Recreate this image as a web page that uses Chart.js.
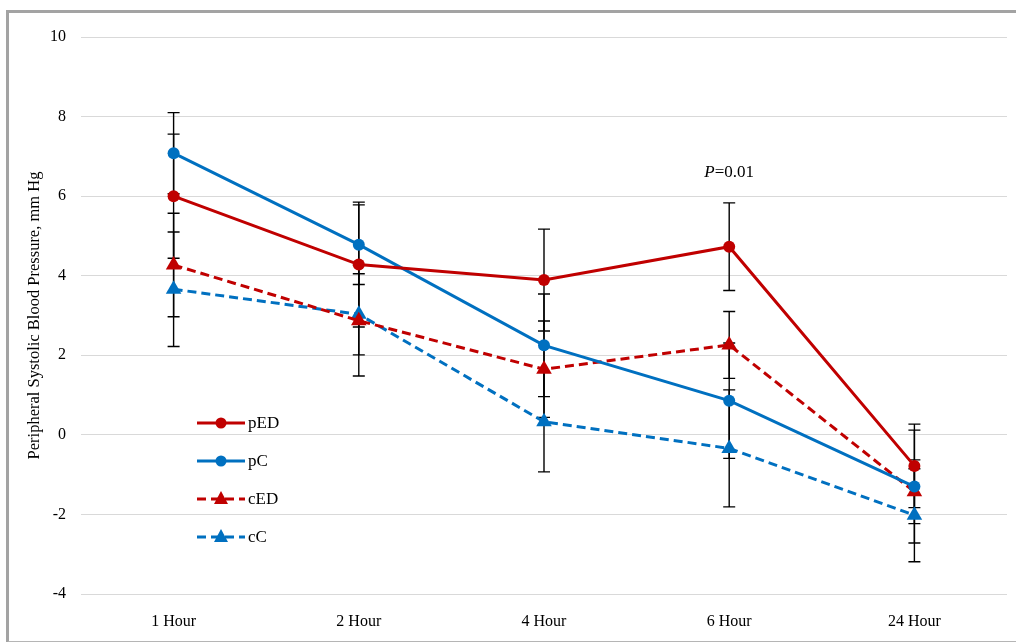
<!DOCTYPE html>
<html>
<head>
<meta charset="utf-8">
<title>Peripheral Systolic Blood Pressure</title>
<script src="https://cdn.jsdelivr.net/npm/chart.js@4/dist/chart.umd.min.js"></script>
<style>
  html, body { margin: 0; padding: 0; background: #fff; overflow: hidden; }
  #wrap { position: absolute; left: 0; top: 0; width: 1016px; height: 642px; }
  #frame {
    position: absolute; left: 6px; top: 10px; width: 1030px; height: 628px;
    border-top: 3px solid #a3a3a3; border-left: 3px solid #a3a3a3; border-bottom: 2px solid #b5b5b5;
    pointer-events: none;
  }
</style>
</head>
<body>
<div id="wrap">
  <canvas id="bpChart" width="1016" height="642"></canvas>
  <div id="frame"></div>
</div>
<script>
// data
const categories = ['1 Hour', '2 Hour', '4 Hour', '6 Hour', '24 Hour'];
const seriesNames = ['pED', 'pC', 'cED', 'cC'];

const pED = [6.0, 4.28, 3.89, 4.73, -0.78];
const pC = [7.08, 4.78, 2.25, 0.86, -1.30];
const cED = [4.27, 2.87, 1.65, 2.26, -1.43];
const cC = [3.66, 3.03, 0.33, -0.34, -2.02];

// +/- error for each point
const pEDErr = [1.56, 1.57, 1.28, 1.10, 1.05];
const pCErr = [1.02, 1.00, 1.29, 1.45, 1.42];
const cEDErr = [1.30, 1.39, 1.21, 0.84, 0.80];
const cCErr = [1.44, 1.02, 1.26, 1.47, 1.17];

const yTicks = [-4, -2, 0, 2, 4, 6, 8, 10];

// significance note above 6 Hour
const noteCategory = '6 Hour';
const noteValue = 6.6;
const noteText = '=0.01';

const RED = '#C00000';
const BLUE = '#0070C0';
const FONT = '"Liberation Serif", "Times New Roman", serif';

document.addEventListener('DOMContentLoaded', () => {
    const ctx = document.getElementById('bpChart').getContext('2d');

    const errorBars = {
        id: 'errorBars',
        beforeDatasetsDraw(chart) {
            const { ctx, scales: { x, y } } = chart;
            ctx.save();
            ctx.strokeStyle = '#000';
            ctx.lineWidth = 1.4;
            chart.data.datasets.forEach(ds => {
                ds.data.forEach((v, i) => {
                    const px = x.getPixelForValue(i);
                    const top = y.getPixelForValue(v + ds.err[i]);
                    const bot = y.getPixelForValue(v - ds.err[i]);
                    ctx.beginPath();
                    ctx.moveTo(px, top); ctx.lineTo(px, bot);
                    ctx.moveTo(px - 6, top); ctx.lineTo(px + 6, top);
                    ctx.moveTo(px - 6, bot); ctx.lineTo(px + 6, bot);
                    ctx.stroke();
                });
            });
            ctx.restore();
        }
    };

    const note = {
        id: 'note',
        afterDraw(chart) {
            const { ctx, scales: { x, y } } = chart;
            const px = x.getPixelForValue(categories.indexOf(noteCategory));
            const py = y.getPixelForValue(noteValue);
            ctx.save();
            ctx.fillStyle = '#000';
            ctx.textBaseline = 'middle';
            ctx.font = 'italic 17px ' + FONT;
            const pw = ctx.measureText('P').width;
            ctx.font = '17px ' + FONT;
            const rw = ctx.measureText(noteText).width;
            const start = px - (pw + rw) / 2;
            ctx.font = 'italic 17px ' + FONT;
            ctx.fillText('P', start, py);
            ctx.font = '17px ' + FONT;
            ctx.fillText(noteText, start + pw, py);
            ctx.restore();
        }
    };

    // legend drawn inside the plot area, bottom-left
    const insideLegend = {
        id: 'insideLegend',
        afterDraw(chart) {
            const { ctx } = chart;
            const x0 = 197, x1 = 245, rowY = 423, rowGap = 38;
            ctx.save();
            chart.data.datasets.forEach((ds, i) => {
                const yy = rowY + i * rowGap;
                ctx.strokeStyle = ds.borderColor;
                ctx.lineWidth = 3;
                ctx.setLineDash(ds.borderDash || []);
                ctx.beginPath();
                ctx.moveTo(x0, yy); ctx.lineTo(x1, yy);
                ctx.stroke();
                ctx.setLineDash([]);
                ctx.fillStyle = ds.borderColor;
                const cx = (x0 + x1) / 2;
                ctx.beginPath();
                if (ds.pointStyle === 'triangle') {
                    ctx.moveTo(cx, yy - 8); ctx.lineTo(cx + 7, yy + 5); ctx.lineTo(cx - 7, yy + 5);
                    ctx.closePath();
                } else {
                    ctx.arc(cx, yy, 5.5, 0, Math.PI * 2);
                }
                ctx.fill();
                ctx.fillStyle = '#000';
                ctx.font = '17px ' + FONT;
                ctx.textBaseline = 'middle';
                ctx.fillText(ds.label, x1 + 3, yy + 1);
            });
            ctx.restore();
        }
    };

    const mk = (label, data, err, color, dashed) => ({
        label: label,
        data: data,
        err: err,
        borderColor: color,
        backgroundColor: color,
        borderWidth: 3,
        borderDash: dashed ? [9, 5] : [],
        pointStyle: dashed ? 'triangle' : 'circle',
        pointRadius: dashed ? 9 : 6,
        pointBorderWidth: 0,
        tension: 0,
        fill: false
    });

    new Chart(ctx, {
        type: 'line',
        data: {
            labels: categories,
            datasets: [
                mk(seriesNames[0], pED, pEDErr, RED, false),
                mk(seriesNames[1], pC, pCErr, BLUE, false),
                mk(seriesNames[2], cED, cEDErr, RED, true),
                mk(seriesNames[3], cC, cCErr, BLUE, true)
            ]
        },
        options: {
            responsive: false,
            animation: false,
            layout: { padding: { top: 37, right: 7, left: 0, bottom: 0 } },
            plugins: {
                legend: { display: false },
                tooltip: { enabled: false }
            },
            scales: {
                x: {
                    offset: true,
                    grid: { display: false },
                    border: { display: false },
                    ticks: { color: '#000', font: { family: FONT, size: 16 }, padding: 10 },
                    afterFit: s => { s.height = 48; }
                },
                y: {
                    min: yTicks[0],
                    max: yTicks[yTicks.length - 1],
                    afterBuildTicks: s => { s.ticks = yTicks.map(v => ({ value: v })); },
                    grid: { color: '#d9d9d9', lineWidth: 1, drawTicks: false },
                    border: { display: false },
                    ticks: { color: '#000', font: { family: FONT, size: 16 }, padding: 15 },
                    title: {
                        display: true,
                        text: 'Peripheral Systolic Blood Pressure, mm Hg',
                        color: '#000',
                        font: { family: FONT, size: 16.5 },
                        padding: { top: 25, bottom: 0 }
                    },
                    afterFit: s => { s.width = 81; }
                }
            }
        },
        plugins: [errorBars, note, insideLegend]
    });
});
</script>
</body>
</html>
